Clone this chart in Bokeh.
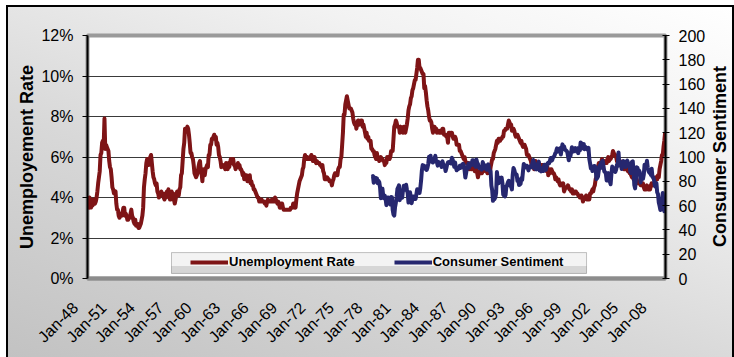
import math
from bokeh.plotting import figure
from bokeh.models import (Range1d, LinearAxis, FixedTicker, PrintfTickFormatter,
                          Legend, LegendItem, BoxAnnotation, Label)
from bokeh.embed import file_html
from bokeh.resources import INLINE

# ---------------- data ----------------
tick_labels = ["Jan-48", "Jan-51", "Jan-54", "Jan-57", "Jan-60", "Jan-63", "Jan-66",
               "Jan-69", "Jan-72", "Jan-75", "Jan-78", "Jan-81", "Jan-84", "Jan-87",
               "Jan-90", "Jan-93", "Jan-96", "Jan-99", "Jan-02", "Jan-05", "Jan-08"]

start_year = 1948          # first month of unemployment series: Jan-48
sentiment_start_year = 1978  # first month of consumer sentiment series: Jan-78

# monthly unemployment rate (%), Jan-1948 .. Dec-2008
unemployment = [
    3.4, 3.8, 4.0, 3.9, 3.5, 3.6, 3.6, 3.9, 3.8, 3.7, 3.8, 4.0,
    4.3, 4.7, 5.0, 5.3, 6.1, 6.2, 6.7, 6.8, 6.6, 7.9, 6.4, 6.6,
    6.5, 6.4, 6.3, 5.8, 5.5, 5.4, 5.0, 4.5, 4.4, 4.2, 4.2, 4.3,
    3.7, 3.4, 3.4, 3.1, 3.0, 3.2, 3.1, 3.1, 3.3, 3.5, 3.5, 3.1,
    3.2, 3.1, 2.9, 2.9, 3.0, 3.0, 3.2, 3.4, 3.1, 3.0, 2.8, 2.7,
    2.9, 2.6, 2.6, 2.7, 2.5, 2.5, 2.6, 2.7, 2.9, 3.1, 3.5, 4.5,
    4.9, 5.2, 5.7, 5.9, 5.9, 5.6, 5.8, 6.0, 6.1, 5.7, 5.3, 5.0,
    4.9, 4.7, 4.6, 4.7, 4.3, 4.2, 4.0, 4.2, 4.1, 4.3, 4.2, 4.2,
    4.0, 3.9, 4.2, 4.0, 4.3, 4.3, 4.4, 4.1, 3.9, 3.9, 4.3, 4.2,
    4.2, 3.9, 3.7, 3.9, 4.1, 4.3, 4.2, 4.1, 4.4, 4.5, 5.1, 5.2,
    5.8, 6.4, 6.7, 7.4, 7.4, 7.3, 7.5, 7.4, 7.1, 6.7, 6.2, 6.2,
    6.0, 5.9, 5.6, 5.2, 5.1, 5.0, 5.1, 5.2, 5.5, 5.7, 5.8, 5.3,
    5.2, 4.8, 5.4, 5.2, 5.1, 5.4, 5.5, 5.6, 5.5, 6.1, 6.1, 6.6,
    6.6, 6.9, 6.9, 7.0, 7.1, 6.9, 7.0, 6.6, 6.7, 6.5, 6.1, 6.0,
    5.8, 5.5, 5.6, 5.6, 5.5, 5.5, 5.4, 5.7, 5.6, 5.4, 5.7, 5.5,
    5.7, 5.9, 5.7, 5.7, 5.9, 5.6, 5.6, 5.4, 5.5, 5.5, 5.7, 5.5,
    5.6, 5.4, 5.4, 5.3, 5.1, 5.2, 4.9, 5.0, 5.1, 5.1, 4.8, 5.0,
    4.9, 5.1, 4.7, 4.8, 4.6, 4.6, 4.4, 4.4, 4.3, 4.2, 4.1, 4.0,
    4.0, 3.8, 3.8, 3.8, 3.9, 3.8, 3.8, 3.8, 3.7, 3.7, 3.6, 3.8,
    3.9, 3.8, 3.8, 3.8, 3.8, 3.9, 3.8, 3.8, 3.8, 4.0, 3.9, 3.8,
    3.7, 3.8, 3.7, 3.5, 3.5, 3.7, 3.7, 3.5, 3.4, 3.4, 3.4, 3.4,
    3.4, 3.4, 3.4, 3.4, 3.4, 3.5, 3.5, 3.5, 3.7, 3.7, 3.5, 3.5,
    3.9, 4.2, 4.4, 4.6, 4.8, 4.9, 5.0, 5.1, 5.4, 5.5, 5.9, 6.1,
    5.9, 5.9, 6.0, 5.9, 5.9, 5.9, 6.0, 6.1, 6.0, 5.8, 6.0, 6.0,
    5.8, 5.7, 5.8, 5.7, 5.7, 5.7, 5.6, 5.6, 5.5, 5.6, 5.3, 5.2,
    4.9, 5.0, 4.9, 5.0, 4.9, 4.9, 4.8, 4.8, 4.8, 4.6, 4.8, 4.9,
    5.1, 5.2, 5.1, 5.1, 5.1, 5.4, 5.5, 5.5, 5.9, 6.0, 6.6, 7.2,
    8.1, 8.1, 8.6, 8.8, 9.0, 8.8, 8.6, 8.4, 8.4, 8.4, 8.3, 8.2,
    7.9, 7.7, 7.6, 7.7, 7.4, 7.6, 7.8, 7.8, 7.6, 7.7, 7.8, 7.8,
    7.5, 7.6, 7.4, 7.2, 7.0, 7.2, 6.9, 7.0, 6.8, 6.8, 6.8, 6.4,
    6.4, 6.3, 6.3, 6.1, 6.0, 5.9, 6.2, 5.9, 6.0, 5.8, 5.9, 6.0,
    5.9, 5.9, 5.8, 5.8, 5.6, 5.7, 5.7, 6.0, 5.9, 6.0, 5.9, 6.0,
    6.3, 6.3, 6.3, 6.9, 7.5, 7.6, 7.8, 7.7, 7.5, 7.5, 7.5, 7.2,
    7.5, 7.4, 7.4, 7.2, 7.5, 7.5, 7.2, 7.4, 7.6, 7.9, 8.3, 8.5,
    8.6, 8.9, 9.0, 9.3, 9.4, 9.6, 9.8, 9.8, 10.1, 10.4, 10.8, 10.8,
    10.4, 10.4, 10.3, 10.2, 10.1, 10.1, 9.4, 9.5, 9.2, 8.8, 8.5, 8.3,
    8.0, 7.8, 7.8, 7.7, 7.4, 7.2, 7.5, 7.5, 7.3, 7.4, 7.2, 7.3,
    7.3, 7.2, 7.2, 7.3, 7.2, 7.4, 7.4, 7.1, 7.1, 7.1, 7.0, 7.0,
    6.7, 7.2, 7.2, 7.1, 7.2, 7.2, 7.0, 6.9, 7.0, 7.0, 6.9, 6.6,
    6.6, 6.6, 6.6, 6.3, 6.3, 6.2, 6.1, 6.0, 5.9, 6.0, 5.8, 5.7,
    5.7, 5.7, 5.7, 5.4, 5.6, 5.4, 5.4, 5.6, 5.4, 5.4, 5.3, 5.3,
    5.4, 5.2, 5.0, 5.2, 5.2, 5.3, 5.2, 5.2, 5.3, 5.3, 5.4, 5.4,
    5.4, 5.3, 5.2, 5.4, 5.4, 5.2, 5.5, 5.7, 5.9, 5.9, 6.2, 6.3,
    6.4, 6.6, 6.8, 6.7, 6.9, 6.9, 6.8, 6.9, 6.9, 7.0, 7.0, 7.3,
    7.3, 7.4, 7.4, 7.4, 7.6, 7.8, 7.7, 7.6, 7.6, 7.3, 7.4, 7.4,
    7.3, 7.1, 7.0, 7.1, 7.1, 7.0, 6.9, 6.8, 6.7, 6.8, 6.6, 6.5,
    6.6, 6.6, 6.5, 6.4, 6.1, 6.1, 6.1, 6.0, 5.9, 5.8, 5.6, 5.5,
    5.6, 5.4, 5.4, 5.8, 5.6, 5.6, 5.7, 5.7, 5.6, 5.5, 5.6, 5.6,
    5.6, 5.5, 5.5, 5.6, 5.6, 5.3, 5.5, 5.1, 5.2, 5.2, 5.4, 5.4,
    5.3, 5.2, 5.2, 5.1, 4.9, 5.0, 4.9, 4.8, 4.9, 4.7, 4.6, 4.7,
    4.6, 4.6, 4.7, 4.3, 4.4, 4.5, 4.5, 4.5, 4.6, 4.5, 4.4, 4.4,
    4.3, 4.4, 4.2, 4.3, 4.2, 4.3, 4.3, 4.2, 4.2, 4.1, 4.1, 4.0,
    4.0, 4.1, 4.0, 3.8, 4.0, 4.0, 4.0, 4.1, 3.9, 3.9, 3.9, 3.9,
    4.2, 4.2, 4.3, 4.4, 4.3, 4.5, 4.6, 4.9, 5.0, 5.3, 5.5, 5.7,
    5.7, 5.7, 5.7, 5.9, 5.8, 5.8, 5.8, 5.7, 5.7, 5.7, 5.9, 6.0,
    5.8, 5.9, 5.9, 6.0, 6.1, 6.3, 6.2, 6.1, 6.1, 6.0, 5.8, 5.7,
    5.7, 5.6, 5.8, 5.6, 5.6, 5.6, 5.5, 5.4, 5.4, 5.5, 5.4, 5.4,
    5.3, 5.4, 5.2, 5.2, 5.1, 5.0, 5.0, 4.9, 5.0, 5.0, 5.0, 4.9,
    4.7, 4.8, 4.7, 4.7, 4.6, 4.6, 4.7, 4.7, 4.5, 4.4, 4.5, 4.4,
    4.6, 4.5, 4.4, 4.5, 4.4, 4.6, 4.7, 4.6, 4.7, 4.7, 4.7, 5.0,
    5.0, 4.9, 5.1, 5.0, 5.4, 5.6, 5.8, 6.1, 6.1, 6.5, 6.8, 7.2,
]

# monthly consumer sentiment index, Jan-1978 .. Dec-2008
sentiment = [
    83.7, 84.3, 78.8, 81.6, 82.9, 80.0, 82.4, 78.4, 80.4, 79.3, 75.0, 66.1,
    72.1, 73.9, 68.4, 66.0, 68.1, 65.8, 60.4, 64.5, 66.7, 62.1, 63.3, 61.0,
    67.0, 66.9, 56.5, 52.7, 51.7, 58.7, 62.3, 67.3, 73.7, 75.0, 76.7, 64.5,
    71.4, 66.9, 66.5, 72.4, 76.3, 73.1, 74.1, 77.2, 73.1, 70.3, 62.5, 64.3,
    71.0, 66.5, 62.0, 65.5, 67.5, 65.7, 65.4, 65.4, 69.3, 73.4, 72.1, 71.9,
    70.4, 74.6, 80.8, 89.1, 93.3, 92.2, 92.8, 90.9, 89.9, 89.3, 91.1, 94.2,
    100.1, 97.4, 101.0, 96.1, 98.1, 95.5, 96.6, 99.1, 100.9, 96.3, 95.7, 92.9,
    96.0, 93.7, 93.7, 94.6, 91.8, 96.5, 94.0, 92.4, 92.1, 88.4, 90.9, 93.9,
    95.6, 95.9, 95.1, 96.2, 94.8, 99.3, 97.7, 94.9, 91.9, 95.6, 91.4, 89.1,
    90.4, 90.2, 90.8, 92.8, 91.1, 91.5, 93.7, 94.4, 93.6, 89.3, 83.1, 86.8,
    90.8, 91.6, 94.6, 91.2, 94.8, 94.7, 93.4, 97.4, 97.3, 94.1, 93.0, 91.9,
    97.9, 95.4, 94.3, 91.5, 90.7, 90.6, 92.0, 89.6, 95.8, 93.9, 90.9, 90.5,
    93.0, 89.5, 91.3, 93.9, 90.6, 88.3, 88.2, 76.4, 72.8, 63.9, 66.0, 65.5,
    66.8, 70.4, 87.7, 81.8, 78.3, 82.1, 82.9, 82.0, 83.0, 78.3, 69.1, 68.2,
    67.5, 68.8, 76.0, 77.2, 79.2, 80.4, 76.6, 76.1, 75.6, 73.3, 85.3, 91.0,
    89.3, 86.6, 85.9, 85.6, 80.3, 81.5, 77.0, 77.3, 77.9, 82.7, 81.2, 88.2,
    94.3, 93.2, 91.5, 92.6, 92.8, 91.2, 89.0, 91.7, 91.5, 92.7, 91.6, 95.1,
    97.6, 95.1, 90.3, 92.5, 89.8, 92.7, 94.4, 96.2, 88.9, 90.2, 88.2, 91.0,
    89.3, 88.5, 93.7, 92.7, 89.4, 92.4, 94.7, 95.3, 94.7, 96.5, 99.2, 96.9,
    97.4, 99.7, 100.0, 101.4, 103.2, 104.5, 107.1, 104.4, 106.0, 105.6, 107.2, 102.1,
    106.6, 110.4, 106.5, 108.7, 106.5, 105.6, 105.2, 104.4, 100.9, 97.4, 102.7, 100.5,
    103.9, 108.1, 105.7, 104.6, 106.8, 107.3, 106.0, 104.5, 107.2, 103.2, 107.2, 105.4,
    112.0, 111.3, 107.1, 109.2, 110.7, 106.4, 108.3, 107.3, 106.8, 105.8, 107.6, 98.4,
    94.7, 90.6, 91.5, 88.4, 92.0, 92.6, 92.4, 91.5, 81.8, 82.7, 83.9, 88.8,
    93.0, 90.7, 95.7, 93.0, 96.9, 92.4, 88.1, 87.6, 86.1, 80.6, 84.2, 86.7,
    82.4, 79.9, 77.6, 86.0, 92.1, 89.7, 90.9, 89.3, 87.7, 89.6, 93.7, 92.6,
    103.8, 94.4, 95.8, 94.2, 90.2, 95.6, 96.7, 95.9, 94.2, 91.7, 92.8, 97.1,
    95.5, 94.1, 92.6, 87.7, 86.9, 96.0, 96.5, 89.1, 76.9, 74.2, 81.6, 91.5,
    91.2, 86.7, 88.9, 87.4, 79.1, 84.9, 84.7, 82.0, 85.4, 93.6, 92.1, 91.7,
    96.9, 91.3, 88.4, 87.1, 88.3, 85.3, 90.4, 83.4, 83.4, 80.9, 76.1, 75.5,
    78.4, 70.8, 69.5, 62.6, 59.8, 56.4, 61.2, 63.0, 70.3, 57.6, 55.3, 56.0,
]

left_ticks = [0, 2, 4, 6, 8, 10, 12]
right_ticks = [0, 20, 40, 60, 80, 100, 120, 140, 160, 180, 200]

# ---------------- derived positions (month index) ----------------
months_u = list(range(len(unemployment)))
s_offset = (sentiment_start_year - start_year) * 12
months_s = [s_offset + i for i in range(len(sentiment))]
tick_pos = [i * 36 for i in range(len(tick_labels))]
# Excel ends each slanted label a little before its category; Bokeh ends it
# at the tick, so the label is padded with a few non-breaking spaces
LABEL_PAD = "\u00a0" * 4

FONT = "Liberation Sans"
RED = "#7e1416"
BLUE = "#26276f"

p = figure(width=734, height=357, output_backend="svg", toolbar_location=None,
           x_range=Range1d(-0.5, len(unemployment) - 0.5),
           y_range=Range1d(left_ticks[0], left_ticks[-1]),
           min_border_left=87, min_border_right=69, min_border_top=35,
           min_border_bottom=79)
p.extra_y_ranges = {"sent": Range1d(right_ticks[0], right_ticks[-1])}

p.background_fill_color = "white"
p.border_fill_color = None
p.outline_line_color = "#9a9a9a"
p.outline_line_width = 4
p.styles = {
    "background": ("linear-gradient(200deg, #ffffff 0%, #f2f2f2 25%, #d8d8d8 60%, #c2c2c2 100%) "
                   "8px 7px / 724px 350px no-repeat, "
                   "linear-gradient(#000000, #000000) 6px 5px / 728px 352px no-repeat, #ffffff")
}

# grid
p.xgrid.grid_line_color = None
p.ygrid.ticker = FixedTicker(ticks=left_ticks)
p.ygrid.grid_line_color = "#3a3a3a"
p.ygrid.grid_line_width = 1

# left axis
ya = p.yaxis[0]
ya.ticker = FixedTicker(ticks=left_ticks)
ya.formatter = PrintfTickFormatter(format="%d%%")
ya.axis_label = "Unemployement Rate"
ya.axis_label_text_font = FONT
ya.axis_label_text_font_size = "18px"
ya.axis_label_text_font_style = "bold"
ya.axis_label_text_color = "black"
ya.axis_label_standoff = 1
ya.major_label_text_font = FONT
ya.major_label_text_font_size = "16px"
ya.major_label_text_color = "black"
ya.major_label_standoff = 9
ya.axis_line_color = "black"
ya.axis_line_width = 2
ya.major_tick_line_color = "black"
ya.major_tick_line_width = 1
ya.major_tick_out = 5
ya.major_tick_in = 0
ya.minor_tick_line_color = None

# right axis
ra = LinearAxis(y_range_name="sent", ticker=FixedTicker(ticks=right_ticks))
ra.major_label_text_font = FONT
ra.major_label_text_font_size = "16px"
ra.major_label_text_color = "black"
ra.major_label_standoff = 9
ra.axis_line_color = "black"
ra.axis_line_width = 2
ra.major_tick_line_color = "black"
ra.major_tick_out = 4
ra.major_tick_in = 3
ra.minor_tick_line_color = None
p.add_layout(ra, "right")

# right axis title, reading bottom-to-top like the reference (placed in the right panel)
p.add_layout(Label(x=11, y=122, x_units="screen", y_units="screen",
                   text="Consumer Sentiment", angle=math.pi / 2,
                   text_align="center", text_baseline="middle",
                   text_font=FONT, text_font_size="18px", text_font_style="bold",
                   text_color="black"), "right")

# bottom axis
xa = p.xaxis[0]
xa.ticker = FixedTicker(ticks=tick_pos)
xa.major_label_overrides = {pos: lab + LABEL_PAD for pos, lab in zip(tick_pos, tick_labels)}
xa.major_label_orientation = math.pi / 4
xa.major_label_text_font = FONT
xa.major_label_text_font_size = "16px"
xa.major_label_text_color = "black"
xa.major_label_standoff = 8
xa.major_tick_line_color = None
xa.minor_tick_line_color = None
xa.axis_line_color = "#8c8c8c"
xa.axis_line_width = 4

# series
r_u = p.line(months_u, unemployment, line_color=RED, line_width=4, line_join="round")
r_s = p.line(months_s, sentiment, y_range_name="sent", line_color=BLUE, line_width=4,
             line_join="round")

# legend frame (decoration)
p.add_layout(BoxAnnotation(left=105.9, right=631.5, bottom=0.25, top=1.28,
                           fill_color="#f3f3f3", fill_alpha=1, line_color=None))
p.add_layout(BoxAnnotation(left=105.9, right=631.5, bottom=0.25, top=0.62,
                           fill_color="#d6d6d6", fill_alpha=1, line_color=None))
p.add_layout(BoxAnnotation(left=105.9, right=631.5, bottom=0.25, top=1.28,
                           fill_alpha=0, line_color="#3c3c3c", line_width=1))

legend = Legend(items=[LegendItem(label="Unemployment Rate", renderers=[r_u]),
                       LegendItem(label="Consumer Sentiment", renderers=[r_s])],
                orientation="horizontal", location=(103, 9), padding=0, margin=0,
                spacing=39, glyph_width=38, glyph_height=14, label_standoff=1,
                label_height=14, label_text_font=FONT, label_text_font_size="13px",
                label_text_font_style="bold", label_text_color="black",
                background_fill_alpha=0, border_line_color=None)
p.add_layout(legend)

open("out.html", "w").write(file_html(p, INLINE))
